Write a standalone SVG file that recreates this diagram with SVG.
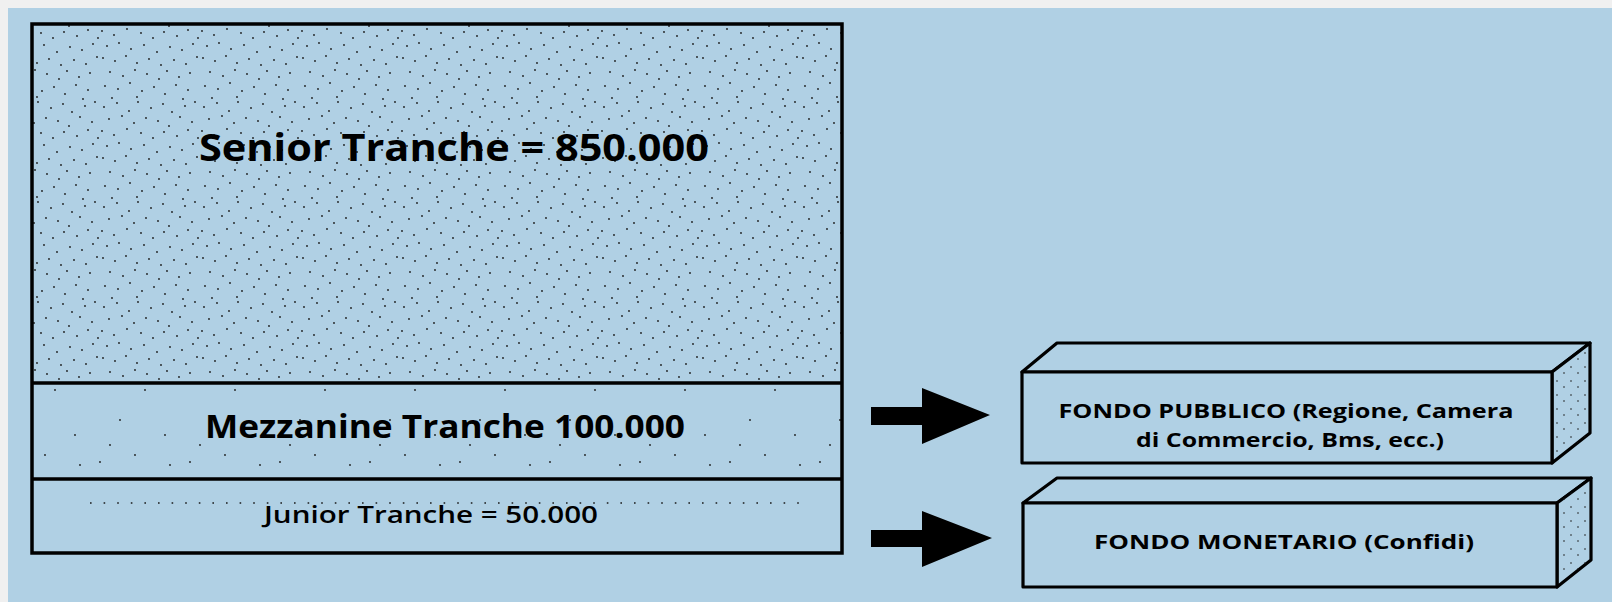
<svg xmlns="http://www.w3.org/2000/svg" width="1612" height="602" viewBox="0 0 1612 602">
<style>
.ln{fill:none;stroke:#000;stroke-width:3.5;stroke-linejoin:miter}
.face{fill:#B0D0E4;stroke:#000;stroke-width:3.2;stroke-linejoin:round}
.t{font-family:"Open Sans","Liberation Sans",sans-serif;fill:#000;text-anchor:middle}
.b{font-weight:700}
.sb{font-weight:600}
.arrow{fill:#000}
</style>
<defs>
<pattern id="dense" width="100" height="100" patternUnits="userSpaceOnUse">
<g fill="#1a1a1a">
<circle cx="4" cy="7" r="0.9"/><circle cx="17" cy="3" r="0.9"/><circle cx="29" cy="11" r="0.9"/><circle cx="38" cy="2" r="0.9"/><circle cx="51" cy="8" r="0.9"/><circle cx="63" cy="4" r="0.9"/><circle cx="72" cy="12" r="0.9"/><circle cx="85" cy="6" r="0.9"/><circle cx="95" cy="2" r="0.9"/>
<circle cx="9" cy="19" r="0.9"/><circle cx="22" cy="16" r="0.9"/><circle cx="34" cy="23" r="0.9"/><circle cx="46" cy="18" r="0.9"/><circle cx="58" cy="21" r="0.9"/><circle cx="69" cy="26" r="0.9"/><circle cx="80" cy="17" r="0.9"/><circle cx="92" cy="22" r="0.9"/>
<circle cx="2" cy="31" r="0.9"/><circle cx="14" cy="35" r="0.9"/><circle cx="27" cy="29" r="0.9"/><circle cx="41" cy="33" r="0.9"/><circle cx="53" cy="38" r="0.9"/><circle cx="64" cy="32" r="0.9"/><circle cx="77" cy="36" r="0.9"/><circle cx="88" cy="30" r="0.9"/><circle cx="98" cy="38" r="0.9"/>
<circle cx="7" cy="46" r="0.9"/><circle cx="19" cy="43" r="0.9"/><circle cx="31" cy="49" r="0.9"/><circle cx="44" cy="45" r="0.9"/><circle cx="57" cy="52" r="0.9"/><circle cx="70" cy="47" r="0.9"/><circle cx="82" cy="50" r="0.9"/><circle cx="93" cy="44" r="0.9"/>
<circle cx="3" cy="58" r="0.9"/><circle cx="15" cy="61" r="0.9"/><circle cx="26" cy="56" r="0.9"/><circle cx="37" cy="63" r="0.9"/><circle cx="49" cy="59" r="0.9"/><circle cx="61" cy="65" r="0.9"/><circle cx="74" cy="60" r="0.9"/><circle cx="86" cy="64" r="0.9"/><circle cx="97" cy="57" r="0.9"/>
<circle cx="10" cy="72" r="0.9"/><circle cx="23" cy="76" r="0.9"/><circle cx="35" cy="70" r="0.9"/><circle cx="47" cy="74" r="0.9"/><circle cx="59" cy="79" r="0.9"/><circle cx="67" cy="71" r="0.9"/><circle cx="79" cy="77" r="0.9"/><circle cx="90" cy="73" r="0.9"/>
<circle cx="5" cy="86" r="0.9"/><circle cx="18" cy="89" r="0.9"/><circle cx="30" cy="83" r="0.9"/><circle cx="42" cy="91" r="0.9"/><circle cx="54" cy="87" r="0.9"/><circle cx="65" cy="94" r="0.9"/><circle cx="76" cy="85" r="0.9"/><circle cx="88" cy="90" r="0.9"/><circle cx="12" cy="98" r="0.9"/><circle cx="37" cy="97" r="0.9"/><circle cx="83" cy="99" r="0.9"/>
</g>
</pattern>
<pattern id="sparse" width="90" height="90" patternUnits="userSpaceOnUse">
<g fill="#1a1a1a">
<circle cx="10" cy="12" r="0.9"/><circle cx="55" cy="30" r="0.9"/><circle cx="30" cy="60" r="0.9"/><circle cx="75" cy="75" r="0.9"/><circle cx="80" cy="15" r="0.9"/><circle cx="20" cy="85" r="0.9"/><circle cx="45" cy="5" r="0.9"/>
</g>
</pattern>
<pattern id="side" width="14" height="14" patternUnits="userSpaceOnUse">
<g fill="#1a1a1a">
<circle cx="3" cy="3" r="0.8"/><circle cx="10" cy="9" r="0.8"/>
</g>
</pattern>
</defs>
<rect x="0" y="0" width="1612" height="602" fill="#F0F0F0"/>
<rect x="8" y="8" width="1604" height="594" fill="#B0D0E4"/>

<g id="tranches">
<rect x="33" y="25" width="808" height="357" fill="url(#dense)"/>
<rect x="33" y="384" width="808" height="94" fill="url(#sparse)"/>
<line x1="90" y1="503" x2="805" y2="503" stroke="#1a1a1a" stroke-width="1.6" stroke-dasharray="1.6 12"/>
<rect class="ln" x="32" y="24" width="810" height="529"/>
<line class="ln" x1="32" y1="383" x2="842" y2="383"/>
<line class="ln" x1="32" y1="479" x2="842" y2="479"/>
</g>

<g id="senior">
<text class="t b" x="454" y="161" font-size="37" textLength="510" lengthAdjust="spacingAndGlyphs">Senior Tranche = 850.000</text>
</g>
<g id="mezzanine">
<text class="t b" x="445" y="438" font-size="32" textLength="480" lengthAdjust="spacingAndGlyphs">Mezzanine Tranche 100.000</text>
</g>
<g id="junior">
<text class="t sb" x="431" y="523" font-size="24" textLength="334" lengthAdjust="spacingAndGlyphs">Junior Tranche = 50.000</text>
</g>

<g id="connectors">
<polygon class="arrow" points="871,407 922,407 922,388 990,415 922,444 922,425 871,425"/>
<polygon class="arrow" points="871,530 922,530 922,511 992,538 922,567 922,547 871,547"/>
</g>

<g id="fondo-pubblico">
<polygon class="face" points="1022,372 1057,343 1590,343 1552,372"/>
<polygon class="face" points="1552,372 1590,343 1590,433 1552,463"/>
<polygon points="1552,372 1590,343 1590,433 1552,463" fill="url(#side)"/>
<rect class="face" x="1022" y="372" width="530" height="91"/>
<text class="t b" x="1286" y="418" font-size="19" textLength="455" lengthAdjust="spacingAndGlyphs">FONDO PUBBLICO (Regione, Camera</text>
<text class="t b" x="1290" y="447" font-size="19" textLength="308" lengthAdjust="spacingAndGlyphs">di Commercio, Bms, ecc.)</text>
</g>

<g id="fondo-monetario">
<polygon class="face" points="1023,503 1057,478 1591,478 1557,503"/>
<polygon class="face" points="1557,503 1591,478 1591,560 1557,587"/>
<polygon points="1557,503 1591,478 1591,560 1557,587" fill="url(#side)"/>
<rect class="face" x="1023" y="503" width="534" height="84"/>
<text class="t b" x="1284" y="549" font-size="19" textLength="380" lengthAdjust="spacingAndGlyphs">FONDO MONETARIO (Confidi)</text>
</g>
</svg>
